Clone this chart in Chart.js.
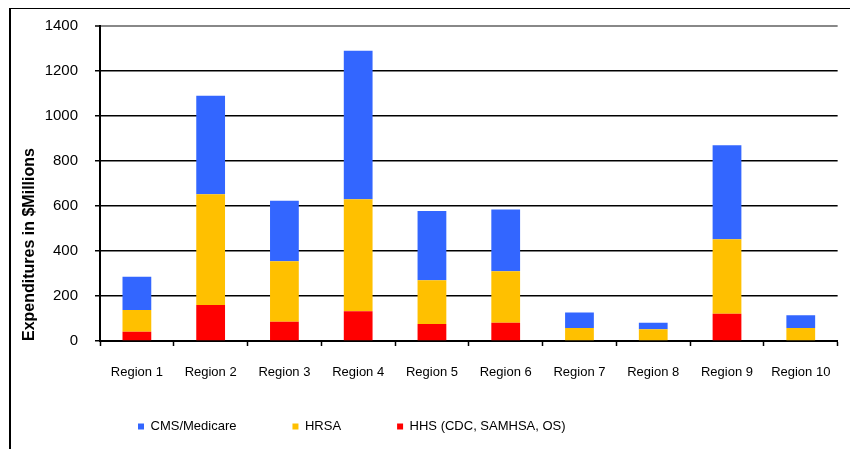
<!DOCTYPE html>
<html>
<head>
<meta charset="utf-8">
<script src="https://cdn.jsdelivr.net/npm/chart.js@4/dist/chart.umd.min.js"></script>
<style>
  html, body { margin: 0; padding: 0; background: #fff; }
  #frame { position: absolute; left: 9px; top: 8px; width: 900px; height: 500px;
           border-left: 2px solid #000; border-top: 1.5px solid #000; }
  #c { position: absolute; left: 0; top: 0; }
</style>
</head>
<body>
<div id="frame"></div>
<canvas id="c" width="850" height="449"></canvas>
<script>
const categories = ['Region 1','Region 2','Region 3','Region 4','Region 5','Region 6','Region 7','Region 8','Region 9','Region 10'];
const seriesNames = ['HHS (CDC, SAMHSA, OS)', 'HRSA', 'CMS/Medicare'];
const hhsValues = [41, 160, 86, 132, 76, 81, 0, 0, 121, 0];
const hrsaValues = [97, 492, 268, 498, 194, 229, 58, 52, 331, 58];
const cmsValues = [148, 438, 269, 660, 308, 275, 69, 29, 418, 56];
const yTicks = [0, 200, 400, 600, 800, 1000, 1200, 1400];
const yTitle = 'Expenditures in $Millions';

const legendPlacer = {
  id: 'legendPlacer',
  afterLayout(chart) {
    const lg = chart.legend;
    if (!lg) return;
    lg.left = 82; lg.right = 850;
    lg.top = 364; lg.bottom = 449;
  }
};

const labelFont = { family: "'Liberation Sans', Arial, sans-serif", size: 13 };

new Chart(document.getElementById('c'), {
  type: 'bar',
  data: {
    labels: categories,
    datasets: [
      { label: seriesNames[0], data: hhsValues, backgroundColor: '#FF0000' },
      { label: seriesNames[1], data: hrsaValues, backgroundColor: '#FFC000' },
      { label: seriesNames[2], data: cmsValues, backgroundColor: '#3366FF' }
    ]
  },
  options: {
    responsive: false,
    devicePixelRatio: 1,
    animation: false,
    datasets: { bar: { categoryPercentage: 1, barPercentage: 0.39, borderWidth: 0 } },
    layout: { padding: { top: 26, right: 12, left: 0, bottom: 0 } },
    plugins: {
      legend: {
        position: 'bottom',
        align: 'start',
        reverse: true,
        maxHeight: 48,
        labels: { boxWidth: 6, boxHeight: 6, padding: 56, color: '#000', font: labelFont }
      },
      tooltip: { enabled: false }
    },
    scales: {
      x: {
        stacked: true,
        afterFit(axis) { axis.height = 60; },
        border: { display: true, color: '#000', width: 2 },
        grid: {
          offset: true,
          drawOnChartArea: true,
          color: (ctx) => ctx.index === categories.length ? '#888' : 'rgba(0,0,0,0)',
          lineWidth: (ctx) => ctx.index === categories.length ? 2 : 1,
          tickColor: '#000', tickWidth: 1.5, tickLength: 5
        },
        ticks: { color: '#000', padding: 19, maxRotation: 0, autoSkip: false, font: labelFont }
      },
      y: {
        stacked: true,
        min: 0, max: 1400,
        afterFit(axis) { axis.width = 100; },
        afterBuildTicks(axis) { axis.ticks = yTicks.map(v => ({ value: v })); },
        border: { display: true, color: '#000', width: 2 },
        grid: {
          color: (ctx) => ctx.tick && ctx.tick.value === 1400 ? '#888' : '#000',
          lineWidth: (ctx) => ctx.tick && ctx.tick.value === 1400 ? 2 : 1.5,
          tickColor: '#000', tickWidth: 1.5, tickLength: 5
        },
        ticks: {
          color: '#000', padding: 17,
          callback: (v) => String(v),
          font: { family: "'Liberation Sans', Arial, sans-serif", size: 15 }
        },
        title: {
          display: true, text: yTitle, align: 'start', color: '#000',
          padding: { top: 20, bottom: 0 },
          font: { family: "'Liberation Sans', Arial, sans-serif", size: 16, weight: 'bold' }
        }
      }
    }
  },
  plugins: [legendPlacer]
});
</script>
</body>
</html>
